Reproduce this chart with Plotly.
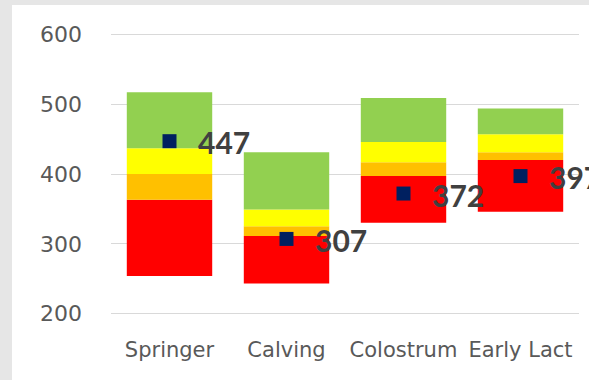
import plotly.graph_objects as go

# Stages and the range boundaries of each colour band
stages = ["Springer", "Calving", "Colostrum", "Early Lact"]
band_low = [254, 243, 330, 346]      # bottom of red band
red_top = [363, 311, 397, 420]
orange_top = [400, 325, 417, 431]
yellow_top = [437, 349, 446, 457]
green_top = [517, 431, 509, 494]
# Measured value per stage
measured = [447, 307, 372, 397]

y_ticks = [200, 300, 400, 500, 600]

bands = [
    ("Red", band_low, red_top, "#ff0000"),
    ("Orange", red_top, orange_top, "#ffc000"),
    ("Yellow", orange_top, yellow_top, "#ffff00"),
    ("Green", yellow_top, green_top, "#92d050"),
]

fig = go.Figure()
for name, lo, hi, color in bands:
    fig.add_trace(go.Bar(
        x=stages,
        y=[h - l for l, h in zip(lo, hi)],
        base=lo,
        name=name,
        marker=dict(color=color, line=dict(width=0)),
        hoverinfo="skip",
    ))

fig.add_trace(go.Scatter(
    x=stages,
    y=measured,
    mode="markers",
    marker=dict(symbol="square", size=14, color="#002060"),
    name="Measured",
))

for s, v in zip(stages, measured):
    fig.add_annotation(
        x=s, y=v, text=f"<b>{v}</b>", showarrow=False,
        xanchor="left", yanchor="middle", xshift=26, yshift=-1,
        font=dict(family="Lato", size=30, color="#404040"),
    )

W, H = 589, 380
ml, mr, mt, mb = 111, 10, 33, 65
pw, ph = W - ml - mr, H - mt - mb

# white chart area with a thin grey frame strip on the left and top
fig.add_shape(
    type="rect", xref="paper", yref="paper", layer="below",
    x0=(12 - ml) / pw, x1=(W + 5 - ml) / pw,
    y0=-(mb + 10) / ph, y1=1 + (mt - 5) / ph,
    fillcolor="white", line=dict(width=0),
)

fig.update_layout(
    width=W, height=H,
    margin=dict(l=ml, r=mr, t=mt, b=mb),
    barmode="overlay",
    bargap=0.27,
    showlegend=False,
    paper_bgcolor="#e6e6e6",
    plot_bgcolor="white",
    font=dict(family="DejaVu Sans", size=21, color="#595959"),
)
fig.update_xaxes(
    type="category", range=[-0.5, 3.5], showgrid=False, showline=False,
    ticks="", ticklabelstandoff=20,
    tickfont=dict(family="DejaVu Sans", size=21, color="#595959"),
)
fig.update_yaxes(
    range=[198, 602], tickvals=y_ticks, showgrid=True,
    gridcolor="#d9d9d9", gridwidth=1, zeroline=False, showline=False,
    ticks="", ticklabelstandoff=28,
    tickfont=dict(family="DejaVu Sans", size=22, color="#595959"),
)

fig.write_html("out.html")
